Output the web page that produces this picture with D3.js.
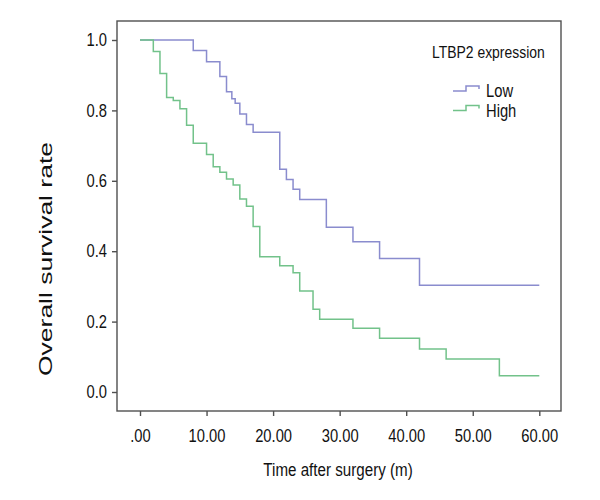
<!DOCTYPE html>
<html>
<head>
<meta charset="utf-8">
<script src="https://cdn.jsdelivr.net/npm/d3@7"></script>
<style>
  html, body { margin: 0; padding: 0; background: #fff; }
  svg { display: block; }
  text { font-family: "Liberation Sans", Arial, sans-serif; fill: #111; }
</style>
</head>
<body>
<svg id="chart" width="600" height="500"></svg>
<script>
// ---- data ----
const lowTimes  = [0, 8, 10, 12, 13, 13.8, 14.3, 15, 16, 17, 21, 22, 23, 24, 28, 32, 36, 42, 60];
const lowSurv   = [1.0, 0.97, 0.938, 0.896, 0.853, 0.833, 0.82, 0.79, 0.76, 0.738, 0.633, 0.604, 0.576, 0.547, 0.468, 0.427, 0.379, 0.303, 0.303];
const highTimes = [0, 2, 3, 4, 5, 6, 7, 8, 10, 11, 12, 13, 14, 15, 16, 17, 18, 21, 23, 24, 26, 27, 32, 36, 42, 46, 54, 60];
const highSurv  = [1.0, 0.967, 0.905, 0.837, 0.828, 0.805, 0.758, 0.707, 0.675, 0.64, 0.624, 0.605, 0.588, 0.548, 0.528, 0.47, 0.384, 0.359, 0.339, 0.287, 0.235, 0.207, 0.181, 0.153, 0.122, 0.094, 0.046, 0.046];
const xTicks = [0, 10, 20, 30, 40, 50, 60];
const xTickLabels = [".00", "10.00", "20.00", "30.00", "40.00", "50.00", "60.00"];
const yTicks = [0.0, 0.2, 0.4, 0.6, 0.8, 1.0];
const yTickLabels = ["0.0", "0.2", "0.4", "0.6", "0.8", "1.0"];
const seriesNames = ["Low", "High"];
const legendTitle = "LTBP2 expression";
const xTitle = "Time after surgery (m)";
const yTitle = "Overall survival rate";

// ---- layout ----
const svg = d3.select("#chart");
const frame = { left: 117, top: 21, right: 561, bottom: 411 };
const x = d3.scaleLinear().domain([0, 60]).range([140, 539.3]);
const y = d3.scaleLinear().domain([0, 1]).range([392, 40]);
const colors = { Low: "#8a8cce", High: "#72c28a" };
const axisColor = "#505050";
const SX = 0.82; // condensed look of the reference typeface

// frame
svg.append("rect")
  .attr("x", frame.left).attr("y", frame.top)
  .attr("width", frame.right - frame.left).attr("height", frame.bottom - frame.top)
  .attr("fill", "none").attr("stroke", axisColor).attr("stroke-width", 1.4);

// x axis
const xAxis = d3.axisBottom(x).tickValues(xTicks).tickSize(5).tickPadding(13)
  .tickFormat((d, i) => xTickLabels[i]);
const gx = svg.append("g").attr("transform", `translate(0,${frame.bottom})`).call(xAxis);
gx.select(".domain").remove();
gx.selectAll(".tick line").attr("stroke", axisColor).attr("stroke-width", 1.4);
gx.selectAll(".tick text").attr("font-size", 18).attr("fill", "#111")
  .style("font-family", '"Liberation Sans", Arial, sans-serif')
  .attr("transform", `scale(${SX},1)`);

// y axis
const yAxis = d3.axisLeft(y).tickValues(yTicks).tickSize(5).tickPadding(5)
  .tickFormat((d, i) => yTickLabels[i]);
const gy = svg.append("g").attr("transform", `translate(${frame.left},0)`).call(yAxis);
gy.select(".domain").remove();
gy.selectAll(".tick line").attr("stroke", axisColor).attr("stroke-width", 1.4);
gy.selectAll(".tick text").attr("font-size", 18).attr("fill", "#111")
  .style("font-family", '"Liberation Sans", Arial, sans-serif')
  .attr("x", -10 / SX)
  .attr("transform", `scale(${SX},1)`);

// curves
const line = d3.line().x(d => x(d[0])).y(d => y(d[1])).curve(d3.curveStepAfter);
const series = [
  { name: "Low", pts: d3.zip(lowTimes, lowSurv) },
  { name: "High", pts: d3.zip(highTimes, highSurv) }
];
svg.selectAll("path.km").data(series).join("path")
  .attr("class", "km")
  .attr("d", d => line(d.pts))
  .attr("fill", "none")
  .attr("stroke", d => colors[d.name])
  .attr("stroke-width", 1.5);

// titles
svg.append("text").attr("transform", `translate(338,476) scale(${SX},1)`).attr("text-anchor", "middle")
  .attr("font-size", 18.5).text(xTitle);
svg.append("text").attr("transform", "translate(52,259) rotate(-90)").attr("text-anchor", "middle")
  .attr("font-size", 18).attr("textLength", 234).attr("lengthAdjust", "spacingAndGlyphs").text(yTitle);

// legend
svg.append("text").attr("transform", `translate(432,58) scale(${SX},1)`).attr("font-size", 17).text(legendTitle);
const lg = svg.append("g");
seriesNames.forEach((n, i) => {
  const yy = 91 + i * 19.5;
  lg.append("path")
    .attr("d", `M453,${yy} H466 V${yy - 5} H479 V${yy - 2}`)
    .attr("fill", "none").attr("stroke", colors[n]).attr("stroke-width", 1.5);
  lg.append("text").attr("transform", `translate(486,${yy + 6}) scale(${SX},1)`).attr("font-size", 18).text(n);
});
</script>
</body>
</html>
